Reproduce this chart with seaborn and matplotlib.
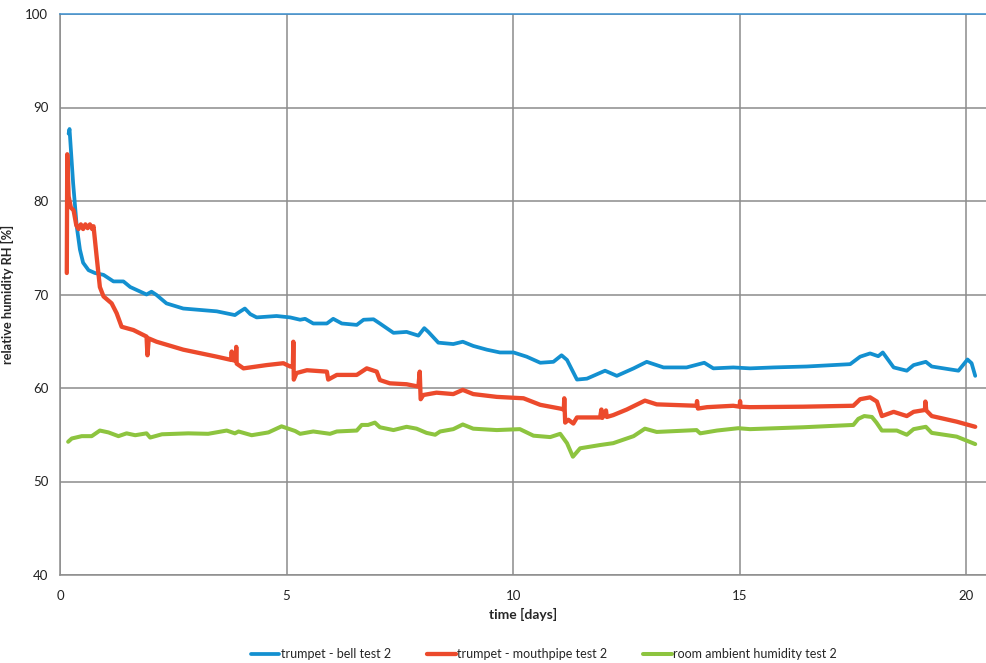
import numpy as np
import pandas as pd
import seaborn as sns
import matplotlib.pyplot as plt
from matplotlib.ticker import MultipleLocator

# trumpet - bell test 2
bell_t = [0.19, 0.21, 0.29, 0.37, 0.44, 0.51, 0.63, 0.77, 0.96, 1.18, 1.40, 1.55, 1.91, 2.02,
          2.13, 2.35, 2.72, 3.09, 3.46, 3.86, 3.95, 4.08, 4.20, 4.34, 4.78, 5.08, 5.30, 5.41,
          5.59, 5.89, 6.03, 6.22, 6.55, 6.70, 6.92, 7.06, 7.36, 7.65, 7.91, 8.04, 8.13, 8.35,
          8.68, 8.89, 9.12, 9.42, 9.71, 10.01, 10.30, 10.60, 10.89, 11.07, 11.19, 11.41, 11.63,
          12.03, 12.29, 12.66, 12.95, 13.32, 13.83, 14.22, 14.42, 14.86, 15.23, 15.75, 16.48,
          17.44, 17.66, 17.88, 18.06, 18.16, 18.40, 18.69, 18.84, 19.11, 19.24, 19.83, 20.03,
          20.12, 20.20]
bell_rh = [87.2, 87.7, 81.9, 77.25, 74.8, 73.4, 72.6, 72.3, 72.1, 71.4, 71.4, 70.8, 70.0, 70.3,
           69.95, 69.05, 68.5, 68.35, 68.2, 67.8, 68.1, 68.5, 67.9, 67.55, 67.7, 67.55, 67.3, 67.4,
           66.9, 66.9, 67.4, 66.9, 66.75, 67.3, 67.35, 66.9, 65.9, 66.0, 65.6, 66.4, 66.0, 64.85,
           64.7, 64.95, 64.5, 64.1, 63.8, 63.8, 63.35, 62.7, 62.8, 63.5, 63.0, 60.9, 61.0,
           61.85, 61.3, 62.1, 62.8, 62.2, 62.2, 62.7, 62.1, 62.2, 62.1, 62.2, 62.3,
           62.55, 63.35, 63.7, 63.4, 63.8, 62.2, 61.85, 62.45, 62.8, 62.3, 61.85, 63.05,
           62.65, 61.3]

# trumpet - mouthpipe test 2
mouth_t = [0.15, 0.16, 0.19, 0.24, 0.30, 0.36, 0.41, 0.46, 0.51, 0.56, 0.61, 0.66, 0.71, 0.74,
           0.81, 0.88, 0.96, 1.14, 1.25, 1.36, 1.62, 1.91, 1.93, 1.96, 2.13, 2.72, 3.46, 3.78,
           3.79, 3.80, 3.88, 3.89, 3.90, 4.05, 4.56, 4.93, 5.08, 5.14, 5.15, 5.16, 5.22, 5.45,
           5.89, 5.92, 6.11, 6.55, 6.77, 6.99, 7.06, 7.28, 7.65, 7.91, 7.94, 7.96, 8.02, 8.31,
           8.68, 8.89, 9.12, 9.64, 10.23, 10.60, 11.04, 11.12, 11.13, 11.15, 11.22, 11.33, 11.41,
           11.92, 11.95, 11.97, 12.05, 12.07, 12.21, 12.51, 12.91, 13.17, 14.05, 14.06, 14.08,
           14.28, 14.86, 15.00, 15.01, 15.02, 15.23, 16.40, 17.51, 17.66, 17.88, 18.03, 18.14,
           18.40, 18.69, 18.84, 19.09, 19.10, 19.12, 19.24, 19.79, 20.20]
mouth_rh = [72.3, 85.0, 80.5, 79.3, 79.0, 77.4, 77.0, 77.5, 77.0, 77.5, 77.1, 77.5, 77.0, 77.3,
            74.0, 70.8, 69.8, 69.05, 68.0, 66.55, 66.2, 65.5, 63.5, 65.3, 64.95, 64.1, 63.35, 63.0,
            63.9, 63.0, 62.9, 64.4, 62.6, 62.1, 62.45, 62.65, 62.3, 62.3, 64.95, 60.9, 61.6, 61.9,
            61.75, 60.9, 61.4, 61.4, 62.1, 61.75, 60.85, 60.5, 60.4, 60.15, 61.75, 58.8, 59.25, 59.5,
            59.35, 59.8, 59.35, 59.05, 58.9, 58.2, 57.8, 57.7, 58.9, 56.3, 56.6, 56.2, 56.85,
            56.85, 57.7, 56.8, 57.6, 56.9, 57.1, 57.7, 58.65, 58.25, 58.1, 58.6, 57.8,
            57.95, 58.1, 58.0, 58.6, 58.0, 57.95, 58.0, 58.1, 58.8, 59.0, 58.55, 57.0,
            57.45, 57.0, 57.45, 57.65, 58.55, 57.6, 57.0, 56.4, 55.85]

# room ambient humidity test 2
room_t = [0.18, 0.26, 0.48, 0.70, 0.88, 1.07, 1.29, 1.47, 1.66, 1.91, 1.99, 2.25, 2.83, 3.27,
          3.68, 3.86, 3.94, 4.23, 4.60, 4.89, 5.04, 5.19, 5.30, 5.59, 5.96, 6.11, 6.55, 6.66,
          6.80, 6.95, 7.06, 7.36, 7.65, 7.87, 8.09, 8.28, 8.39, 8.68, 8.89, 9.12, 9.64, 10.15,
          10.45, 10.82, 11.04, 11.19, 11.32, 11.48, 11.92, 12.21, 12.66, 12.91, 13.17, 14.05,
          14.13, 14.50, 14.97, 15.23, 16.40, 17.51, 17.62, 17.75, 17.92, 18.02, 18.14, 18.47,
          18.69, 18.84, 19.11, 19.24, 19.79, 20.20]
room_rh = [54.25, 54.6, 54.85, 54.85, 55.45, 55.25, 54.85, 55.15, 54.95, 55.15, 54.7, 55.05, 55.15, 55.1,
           55.45, 55.15, 55.35, 54.95, 55.25, 55.9, 55.65, 55.4, 55.1, 55.35, 55.1, 55.35, 55.45, 56.05,
           56.05, 56.3, 55.8, 55.5, 55.85, 55.65, 55.2, 55.0, 55.35, 55.6, 56.1, 55.65, 55.5, 55.6,
           54.9, 54.75, 55.1, 54.1, 52.65, 53.55, 53.9, 54.1, 54.85, 55.65, 55.3, 55.5,
           55.15, 55.45, 55.7, 55.6, 55.8, 56.05, 56.7, 57.0, 56.9, 56.3, 55.45, 55.45,
           55.0, 55.6, 55.85, 55.2, 54.8, 54.0]

series_names = ["trumpet - bell test 2", "trumpet - mouthpipe test 2", "room ambient humidity test 2"]
colors = ["#1390d0", "#ec4a2c", "#8dc43f"]

sns.set_style("white")
plt.rcParams['font.family'] = ['Lato', 'DejaVu Sans']

fig = plt.figure(figsize=(9.87, 6.63), dpi=100)
ax = fig.add_axes([60 / 987, 88 / 663, 927 / 987, 561 / 663])

data = [(bell_t, bell_rh), (mouth_t, mouth_rh), (room_t, room_rh)]
widths = [2.7, 3.1, 2.9]
for (t, rh), name, c, lw in zip(data, series_names, colors, widths):
    sns.lineplot(x=t, y=rh, ax=ax, color=c, linewidth=lw, label=name,
                 estimator=None, sort=False)

ax.set_xlim(0, 20.46)
ax.set_ylim(40, 100)
ax.xaxis.set_major_locator(MultipleLocator(5))
ax.xaxis.set_minor_locator(MultipleLocator(1))
ax.yaxis.set_major_locator(MultipleLocator(10))
ax.yaxis.set_minor_locator(MultipleLocator(2))
ax.grid(True, which='major', color='#8c8c8c', linewidth=1.1)
ax.set_axisbelow(True)

for side in ['left', 'bottom']:
    ax.spines[side].set_color('#8c8c8c')
    ax.spines[side].set_linewidth(1.1)
ax.spines['top'].set_color('#3a8fd0')
ax.spines['top'].set_linewidth(1.1)
ax.spines['right'].set_visible(False)

ax.tick_params(axis='both', which='both', direction='out', color='#8c8c8c', width=1)
ax.tick_params(axis='both', which='major', length=5, labelsize=9.5, labelcolor='#222222')
ax.tick_params(axis='both', which='minor', length=4)
ax.tick_params(axis='x', which='major', pad=6)

ax.set_xlabel("time [days]", fontsize=10, fontweight='bold', labelpad=4)
ax.set_ylabel("relative humidity RH [%]", fontsize=9.2, fontweight='bold', labelpad=8)

ax.get_legend().remove()
handles, labels = ax.get_legend_handles_labels()
fig.legend(handles, labels, loc='center', bbox_to_anchor=(544 / 987, 1 - 654 / 663),
           ncol=3, frameon=False, fontsize=9, handlelength=2.3, handletextpad=0.1,
           columnspacing=2.9)

fig.savefig("out.png", dpi=100)
